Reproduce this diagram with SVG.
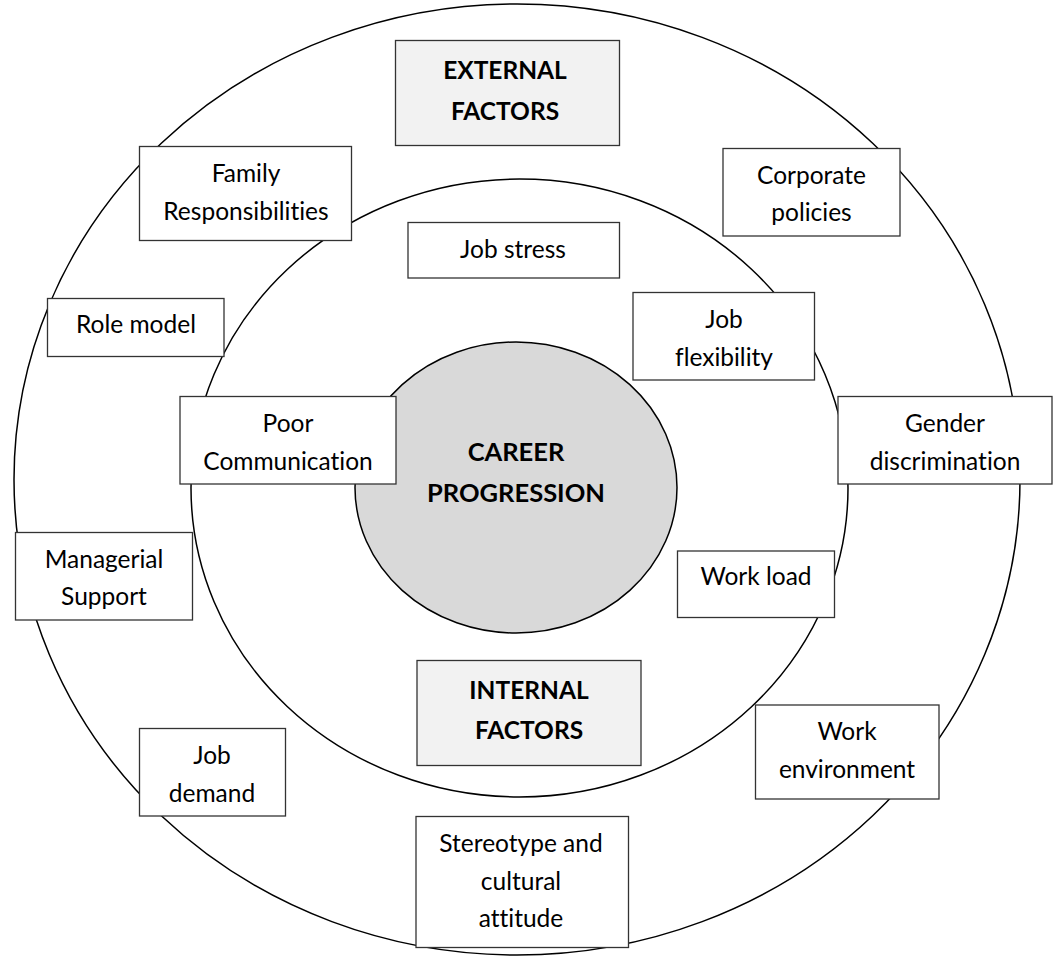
<svg xmlns="http://www.w3.org/2000/svg" width="1053" height="957" viewBox="0 0 1053 957">
  <style>
    .ring { fill: none; stroke: #000; stroke-width: 1.5; }
    .core { fill: #d9d9d9; stroke: #000; stroke-width: 1.5; }
    .box { fill: #fff; stroke: #333; stroke-width: 1.3; }
    .head { fill: #f2f2f2; stroke: #333; stroke-width: 1.3; }
    text { font-family: Lato, "Open Sans", "Liberation Sans", sans-serif; font-size: 24.5px; fill: #000; text-anchor: middle; font-variant-ligatures: none; }
    .bold { font-weight: bold; font-size: 24.5px; }
    .title { font-size: 25.5px; }
  </style>

  <!-- concentric rings -->
  <g id="rings">
    <ellipse id="outer-ring" class="ring" cx="517" cy="479.5" rx="503" ry="475.5"/>
    <ellipse id="inner-ring" class="ring" cx="519.5" cy="488" rx="328.5" ry="309"/>
  </g>

  <g id="career-progression">
    <ellipse class="core" cx="516" cy="487.5" rx="161" ry="145.5"/>
    <text class="bold title" x="516" y="461">CAREER</text>
    <text class="bold title" x="516" y="502">PROGRESSION</text>
  </g>

  <!-- no connectors in this figure -->
  <g id="connectors"/>

  <g id="external-factors">
    <rect class="head" x="395.5" y="40.5" width="224" height="105"/>
    <text class="bold" x="505" y="79">EXTERNAL</text>
    <text class="bold" x="505" y="120">FACTORS</text>
  </g>

  <g id="family-responsibilities">
    <rect class="box" x="139.5" y="146.5" width="212" height="94"/>
    <text x="246" y="182">Family</text>
    <text x="246" y="220">Responsibilities</text>
  </g>

  <g id="corporate-policies">
    <rect class="box" x="723" y="148.5" width="177" height="87.5"/>
    <text x="811.5" y="184">Corporate</text>
    <text x="811.5" y="221">policies</text>
  </g>

  <g id="job-stress">
    <rect class="box" x="408" y="222.5" width="211.5" height="55.5"/>
    <text x="513" y="258">Job stress</text>
  </g>

  <g id="role-model">
    <rect class="box" x="47.5" y="298.5" width="176.5" height="58"/>
    <text x="136" y="333">Role model</text>
  </g>

  <g id="job-flexibility">
    <rect class="box" x="633" y="292.5" width="181.5" height="87.5"/>
    <text x="724" y="328">Job</text>
    <text x="724" y="366">flexibility</text>
  </g>

  <g id="poor-communication">
    <rect class="box" x="180" y="396.5" width="216" height="87.5"/>
    <text x="288" y="432">Poor</text>
    <text x="288" y="470">Communication</text>
  </g>

  <g id="gender-discrimination">
    <rect class="box" x="838" y="396.5" width="214" height="87.5"/>
    <text x="945" y="432">Gender</text>
    <text x="945" y="469.5">discrimination</text>
  </g>

  <g id="managerial-support">
    <rect class="box" x="15.5" y="532.5" width="177" height="87.5"/>
    <text x="104" y="567.5">Managerial</text>
    <text x="104" y="605">Support</text>
  </g>

  <g id="work-load">
    <rect class="box" x="677.5" y="551" width="157" height="66.5"/>
    <text x="756" y="585">Work load</text>
  </g>

  <g id="internal-factors">
    <rect class="head" x="417" y="660.5" width="224" height="105"/>
    <text class="bold" x="529" y="699">INTERNAL</text>
    <text class="bold" x="529" y="739">FACTORS</text>
  </g>

  <g id="job-demand">
    <rect class="box" x="139.5" y="728.5" width="146" height="87.5"/>
    <text x="212" y="763.5">Job</text>
    <text x="212" y="802">demand</text>
  </g>

  <g id="work-environment">
    <rect class="box" x="755.5" y="705" width="183.5" height="94"/>
    <text x="847" y="739.5">Work</text>
    <text x="847" y="777.5">environment</text>
  </g>

  <g id="stereotype-cultural-attitude">
    <rect class="box" x="416" y="816.5" width="212.5" height="131"/>
    <text x="521" y="852">Stereotype and</text>
    <text x="521" y="890">cultural</text>
    <text x="521" y="927">attitude</text>
  </g>
</svg>
